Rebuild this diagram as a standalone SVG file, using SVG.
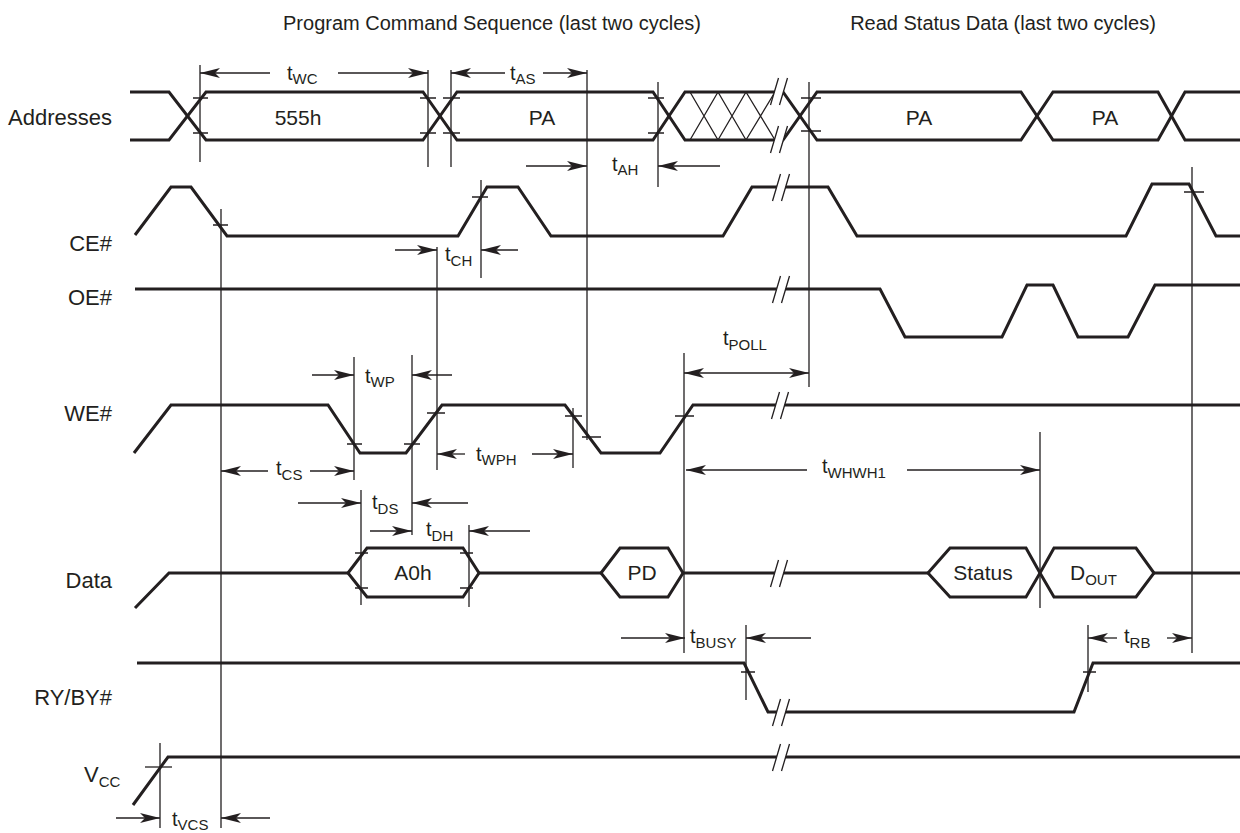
<svg xmlns="http://www.w3.org/2000/svg" xmlns:xlink="http://www.w3.org/1999/xlink" width="1240" height="833" viewBox="0 0 1240 833">
<style>
text{font-family:"Liberation Sans",Arial,sans-serif;fill:#231f20}
.t{font-size:20px}
.s{font-size:15px}
.lbl{font-size:22px;text-anchor:end}
.bus{font-size:21px;text-anchor:middle}
.sig{fill:none;stroke:#231f20;stroke-width:3;stroke-linejoin:miter}
.hex{fill:#fff;stroke:#231f20;stroke-width:3}
.thin{fill:none;stroke:#231f20;stroke-width:1.3}
.arr{fill:none;stroke:#231f20;stroke-width:1.3;marker-end:url(#ah)}
.dbl{fill:none;stroke:#231f20;stroke-width:1.3;marker-end:url(#ah);marker-start:url(#ah)}
</style>
<defs>
<marker id="ah" viewBox="0 0 20 10" refX="20" refY="5" markerWidth="20" markerHeight="10" markerUnits="userSpaceOnUse" orient="auto-start-reverse">
<path d="M0,0 L20,5 L0,10 L5,5 z" fill="#231f20"/>
</marker>
<g id="brk">
<polygon points="-8.5,14 -0.5,-13 8.5,-13 0.5,14" fill="#fff"/>
<path d="M-8.5,14 L-0.5,-13 M0.5,14 L8.5,-13" fill="none" stroke="#231f20" stroke-width="1.3"/>
</g>
</defs>
<rect width="1240" height="833" fill="#fff"/>

<g id="titles">
<text class="t" x="492" y="30" text-anchor="middle">Program Command Sequence (last two cycles)</text>
<text class="t" x="1003" y="30" text-anchor="middle">Read Status Data (last two cycles)</text>
</g>

<g id="labels">
<text class="lbl" x="112" y="125">Addresses</text>
<text class="lbl" x="112" y="251">CE#</text>
<text class="lbl" x="112" y="305">OE#</text>
<text class="lbl" x="112" y="421">WE#</text>
<text class="lbl" x="112" y="588">Data</text>
<text class="lbl" x="112" y="705">RY/BY#</text>
<text x="84" y="782" style="font-size:22px">V<tspan class="s" dy="5">CC</tspan></text>
</g>

<g id="addresses">
<path class="thin" d="M690,92 L718,140 M690,140 L718,92 M718,92 L746,140 M718,140 L746,92 M746,92 L775,140 M746,140 L775,92"/>
<path class="sig" d="M130,92 H169 L206,140 H423 L457,92 H653 L685,140 H783 L817,92 H1021 L1053,140 H1158 L1185,92 H1240"/>
<path class="sig" d="M130,140 H169 L206,92 H423 L457,140 H653 L685,92 H783 L817,140 H1021 L1053,92 H1158 L1185,140 H1240"/>
<use xlink:href="#brk" x="779" y="91"/>
<use xlink:href="#brk" x="779" y="139"/>
<text class="bus" x="298" y="125">555h</text>
<text class="bus" x="542" y="125">PA</text>
<text class="bus" x="919" y="125">PA</text>
<text class="bus" x="1105" y="125">PA</text>
<path class="thin" d="M193,98 H208 M193,133 H208 M420,98 H436 M420,133 H436 M443,98 H460 M443,133 H460 M648,98 H664 M648,133 H664 M801,98 H821 M801,131 H821"/>
</g>

<g id="ce">
<path class="sig" d="M135,235 L171,187 H191 L227,236 H458 L487,187 H518 L551,236 H723 L752,187 H828 L857,236 H1126 L1152,184 H1189 L1216,236 H1240"/>
<use xlink:href="#brk" x="781" y="187"/>
<path class="thin" d="M213,225 H228 M472,197 H488 M1184,192 H1204"/>
</g>

<g id="oe">
<path class="sig" d="M135,289 H880 L905,337 H1002 L1027,285 H1053 L1078,337 H1128 L1155,285 H1240"/>
<use xlink:href="#brk" x="781" y="289"/>
</g>

<g id="we">
<path class="sig" d="M134,453 L171,405 H328 L360,453 H406 L442,405 H565 L601,453 H660 L693,405 H1240"/>
<use xlink:href="#brk" x="780" y="405"/>
<path class="thin" d="M347,444 H362 M404,444 H420 M427,413 H445 M565,416 H582 M582,437 H601 M675,416 H694"/>
</g>

<g id="data">
<path class="sig" d="M135,608 L169,573 H348 M479,573 H601 M683,573 H928 M1154,573 H1240"/>
<polygon class="hex" points="348,573 367,548 463,548 479,573 463,597 367,597"/>
<polygon class="hex" points="601,573 620,548 668,548 683,573 668,597 620,597"/>
<polygon class="hex" points="928,573 950,548 1026,548 1040,573 1026,597 950,597"/>
<polygon class="hex" points="1040,573 1054,548 1136,548 1154,573 1136,597 1054,597"/>
<use xlink:href="#brk" x="779" y="573"/>
<path class="thin" d="M355,553 H368 M355,588 H368 M460,553 H473 M460,588 H473"/>
<text class="bus" x="413" y="580">A0h</text>
<text class="bus" x="642" y="580">PD</text>
<text class="bus" x="983" y="580">Status</text>
<text x="1070" y="580" style="font-size:21px">D<tspan class="s" dy="5">OUT</tspan></text>
</g>

<g id="ryby">
<path class="sig" d="M137,663 H744 L768,712 H1074 L1093,663 H1240"/>
<use xlink:href="#brk" x="781" y="712"/>
<path class="thin" d="M741,672 H755 M1083,672 H1096"/>
</g>

<g id="vcc">
<path class="sig" d="M133,805 L168,757 H1240"/>
<use xlink:href="#brk" x="781" y="757"/>
<path class="thin" d="M145,767 H172"/>
</g>

<g id="connectors">
<path class="thin" d="M200,65 V162 M428,70 V167 M451,70 V167 M587,70 V440 M658,82 V187 M809,82 V387 M221,209 V828 M481,180 V278 M437,247 V470 M354,357 V480 M412,355 V535 M573,408 V468 M684,353 V653 M361,490 V605 M469,525 V607 M1040,432 V608 M746,625 V700 M1088,625 V692 M1192,167 V653 M160,743 V828"/>
<path class="arr" d="M270,73 H200"/><path class="arr" d="M338,73 H428"/>
<path class="arr" d="M505,73 H451"/><path class="arr" d="M543,73 H587"/>
<path class="arr" d="M526,166 H587"/><path class="arr" d="M720,166 H658"/>
<path class="arr" d="M395,250 H437"/><path class="arr" d="M518,250 H481"/>
<path class="arr" d="M312,375 H354"/><path class="arr" d="M452,375 H412"/>
<path class="arr" d="M268,471 H221"/><path class="arr" d="M310,471 H354"/>
<path class="arr" d="M465,454 H437"/><path class="arr" d="M532,454 H573"/>
<path class="dbl" d="M684,373 H809"/>
<path class="arr" d="M807,470 H686"/><path class="arr" d="M907,470 H1040"/>
<path class="arr" d="M298,503 H361"/><path class="arr" d="M468,503 H412"/>
<path class="arr" d="M370,531 H412"/><path class="arr" d="M530,531 H469"/>
<path class="arr" d="M621,638 H685"/><path class="arr" d="M811,638 H746"/>
<path class="arr" d="M1117,638 H1088"/><path class="arr" d="M1167,638 H1192"/>
<path class="arr" d="M116,818 H160"/><path class="arr" d="M270,818 H221"/>
<text class="t" x="287" y="80">t<tspan class="s" dy="4">WC</tspan></text>
<text class="t" x="510" y="80">t<tspan class="s" dy="4">AS</tspan></text>
<text class="t" x="612" y="171">t<tspan class="s" dy="4">AH</tspan></text>
<text class="t" x="445" y="261">t<tspan class="s" dy="5">CH</tspan></text>
<text class="t" x="365" y="383">t<tspan class="s" dy="4">WP</tspan></text>
<text class="t" x="276" y="475">t<tspan class="s" dy="5">CS</tspan></text>
<text class="t" x="476" y="461">t<tspan class="s" dy="4">WPH</tspan></text>
<text class="t" x="723" y="345">t<tspan class="s" dy="5">POLL</tspan></text>
<text class="t" x="822" y="473">t<tspan class="s" dy="5">WHWH1</tspan></text>
<text class="t" x="372" y="509">t<tspan class="s" dy="5">DS</tspan></text>
<text class="t" x="426" y="536">t<tspan class="s" dy="5">DH</tspan></text>
<text class="t" x="690" y="643">t<tspan class="s" dy="5">BUSY</tspan></text>
<text class="t" x="1124" y="643">t<tspan class="s" dy="5">RB</tspan></text>
<text class="t" x="172" y="826">t<tspan class="s" dy="4">VCS</tspan></text>
</g>
</svg>
